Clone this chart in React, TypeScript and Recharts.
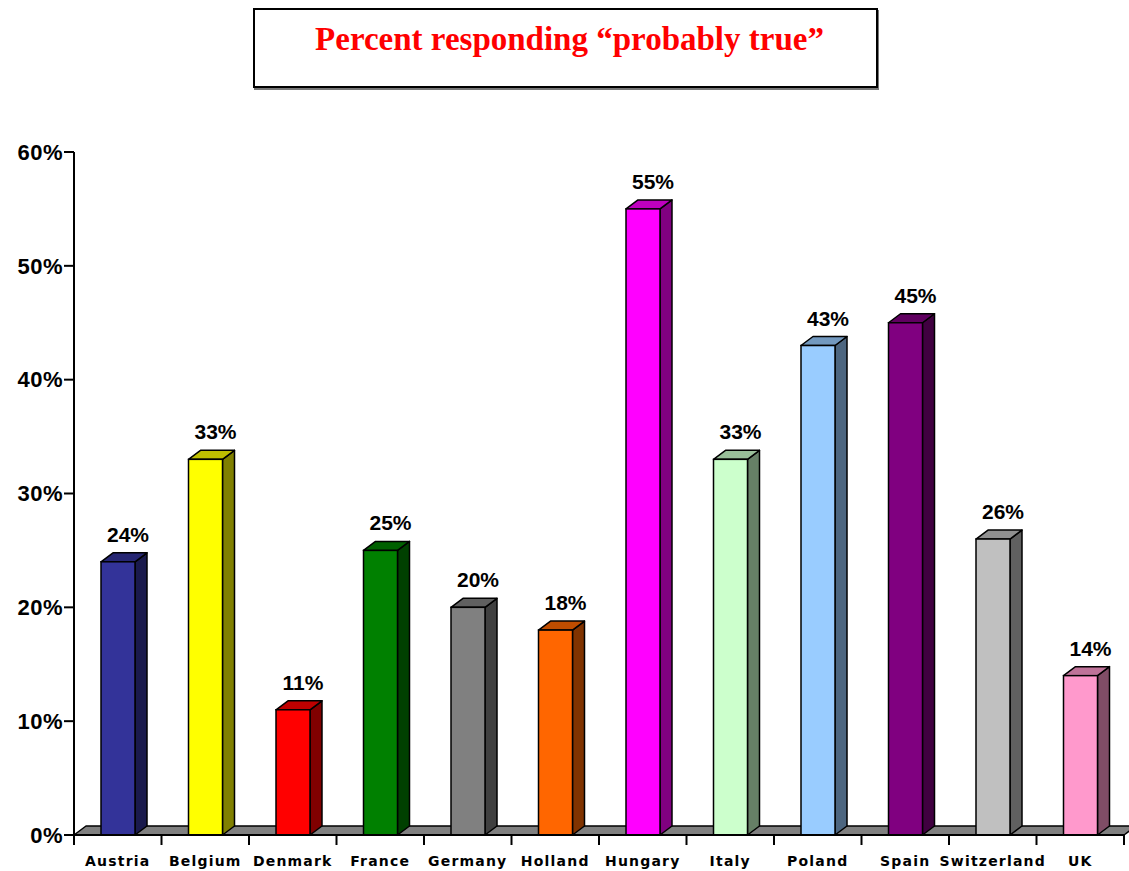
import React from 'react';
import { BarChart, Bar, XAxis, YAxis, Cell, LabelList, ReferenceArea } from 'recharts';

const countries = ['Austria', 'Belgium', 'Denmark', 'France', 'Germany', 'Holland', 'Hungary', 'Italy', 'Poland', 'Spain', 'Switzerland', 'UK'];
const percents = [24, 33, 11, 25, 20, 18, 55, 33, 43, 45, 26, 14];
const barColors = ['#333399', '#FFFF00', '#FF0000', '#008000', '#808080', '#FF6600', '#FF00FF', '#CCFFCC', '#99CCFF', '#800080', '#C0C0C0', '#FF99CC'];
const yTicks = [0, 10, 20, 30, 40, 50, 60];
const titleText = 'Percent responding \u201Cprobably true\u201D';

const data = countries.map((c, i) => ({ country: c, value: percents[i], color: barColors[i] }));

const DX = 12;
const DY = 9;
const TICK_SIZE = 10;
const TICK_MARGIN = 11;

function shade(hex: string, f: number): string {
  const h = hex.replace('#', '');
  const r = Math.round(parseInt(h.slice(0, 2), 16) * f);
  const g = Math.round(parseInt(h.slice(2, 4), 16) * f);
  const b = Math.round(parseInt(h.slice(4, 6), 16) * f);
  const to = (v: number) => v.toString(16).padStart(2, '0');
  return `#${to(r)}${to(g)}${to(b)}`;
}

const Bar3D = (props: any) => {
  const { x, y, width, height, fill } = props;
  if (width == null || height == null) return null;
  const front = fill as string;
  const side = shade(front, 0.5);
  const top = shade(front, 0.75);
  const b = y + height;
  return (
    <g>
      <polygon
        points={`${x + width},${y} ${x + width + DX},${y - DY} ${x + width + DX},${b - DY} ${x + width},${b}`}
        fill={side}
        stroke="#000"
        strokeWidth={1.5}
        strokeLinejoin="round"
      />
      <polygon
        points={`${x},${y} ${x + DX},${y - DY} ${x + width + DX},${y - DY} ${x + width},${y}`}
        fill={top}
        stroke="#000"
        strokeWidth={1.5}
        strokeLinejoin="round"
      />
      <rect x={x} y={y} width={width} height={height} fill={front} stroke="#000" strokeWidth={1.5} />
    </g>
  );
};

const Floor = (props: any) => {
  const { x, y, width, height } = props;
  const b = y + height;
  return (
    <polygon
      points={`${x},${b} ${x + width},${b} ${x + width + DX},${b - DY} ${x + DX},${b - DY}`}
      fill="#808080"
      stroke="#000"
      strokeWidth={1.5}
      strokeLinejoin="round"
    />
  );
};

const XTick = (props: any) => {
  const { x, y, payload, index, visibleTicksCount } = props;
  const half = payload && payload.offset ? payload.offset : 43.75;
  const y1 = y - TICK_SIZE - TICK_MARGIN;
  const y2 = y - TICK_MARGIN;
  const isLast = index === (visibleTicksCount ?? countries.length) - 1;
  return (
    <g>
      <line x1={x - half} x2={x - half} y1={y1} y2={y2} stroke="#000" strokeWidth={2} />
      {isLast && <line x1={x + half} x2={x + half} y1={y1} y2={y2} stroke="#000" strokeWidth={2} />}
      <text
        x={x}
        y={y}
        dy="0.71em"
        textAnchor="middle"
        fontFamily="'DejaVu Sans', sans-serif"
        fontWeight="bold"
        fontSize={14}
        letterSpacing={1.2}
        fill="#000"
      >
        {payload.value}
      </text>
    </g>
  );
};

const ValueLabel = (props: any) => {
  const { x, y, width, value } = props;
  return (
    <text
      x={x + width / 2 + DX / 2 + 4}
      y={y - 20}
      textAnchor="middle"
      fontFamily="'Liberation Sans', Arial, sans-serif"
      fontWeight="bold"
      fontSize={21}
      fill="#000"
    >
      {`${value}%`}
    </text>
  );
};

export default function App() {
  return (
    <div style={{ position: 'absolute', left: 0, top: 0, width: 1129, height: 871, background: '#fff', overflow: 'hidden' }}>
      <div
        style={{
          position: 'absolute',
          left: 253,
          top: 8,
          width: 621,
          height: 76,
          border: '2px solid #000',
          boxShadow: '1px 2px 0 #777',
          background: '#fff',
          textAlign: 'center',
        }}
      >
        <div
          style={{
            marginTop: 9,
            color: '#FF0000',
            fontFamily: "'Liberation Serif', 'Times New Roman', serif",
            fontWeight: 'bold',
            fontSize: 33,
            lineHeight: '40px',
            paddingLeft: 8,
          }}
        >
          {titleText}
        </div>
      </div>
      <div style={{ position: 'absolute', left: 0, top: 0 }}>
        <BarChart
          width={1129}
          height={871}
          data={data}
          margin={{ top: 152, right: 5, bottom: 0, left: 0 }}
          barSize={34}
        >
          <XAxis
            dataKey="country"
            height={36}
            axisLine={{ stroke: '#000', strokeWidth: 2 }}
            tickLine={false}
            tickSize={TICK_SIZE}
            tickMargin={TICK_MARGIN}
            tick={<XTick />}
            interval={0}
          />
          <YAxis
            width={74}
            domain={[0, 60]}
            ticks={yTicks}
            tickFormatter={(v: number) => `${v}%`}
            axisLine={{ stroke: '#000', strokeWidth: 2 }}
            tickLine={{ stroke: '#000', strokeWidth: 2 }}
            tickSize={10}
            tickMargin={1}
            tick={{ fill: '#000', fontFamily: "'Liberation Sans', Arial, sans-serif", fontWeight: 'bold', fontSize: 22, letterSpacing: 0.5 }}
          />
          <ReferenceArea y1={0} y2={0.8} ifOverflow="visible" shape={<Floor />} />
          <Bar dataKey="value" shape={<Bar3D />} isAnimationActive={false}>
            {data.map((d, i) => (
              <Cell key={i} fill={d.color} />
            ))}
            <LabelList dataKey="value" content={<ValueLabel />} />
          </Bar>
        </BarChart>
      </div>
    </div>
  );
}
